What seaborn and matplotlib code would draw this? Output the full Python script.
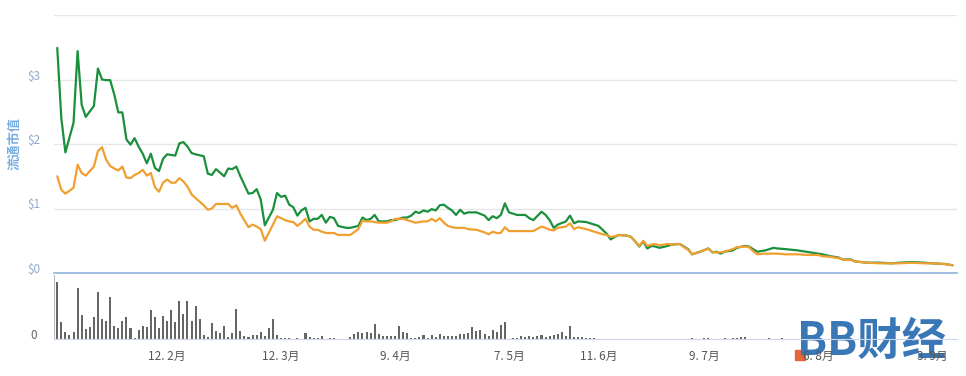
import numpy as np
import pandas as pd
import matplotlib
matplotlib.use("Agg")
import matplotlib.pyplot as plt
from matplotlib.transforms import ScaledTranslation
from matplotlib.patches import Rectangle
import seaborn as sns

# day index (0 = first day shown) and market cap in $ (billions)
days = [0, 1, 2, 4, 5, 6, 7, 9, 10, 11, 12, 13, 14, 15, 16, 17, 18, 19, 20, 21,
        22, 23, 24, 25, 26, 27, 28, 29, 30, 31, 32, 33, 34, 36, 37, 38, 39, 41, 42, 43,
        44, 45, 47, 48, 49, 50, 51, 53, 54, 55, 56, 57, 58, 59, 60, 61, 62, 63, 64, 65,
        66, 67, 68, 69, 71, 72, 74, 75, 76, 77, 78, 79, 81, 82, 83, 85, 86, 87, 88, 89,
        90, 91, 92, 93, 94, 95, 96, 97, 98, 99, 100, 101, 103, 105, 106, 107, 108, 109, 110, 111,
        113, 115, 116, 117, 119, 120, 121, 122, 123, 125, 126, 127, 128, 130, 132, 133, 134, 135, 136, 137,
        138, 140, 141, 142, 143, 144, 145, 146, 147, 148, 150, 151, 153, 154, 155, 156, 158, 160, 161, 162,
        163, 164, 166, 167, 169, 170, 171, 172, 174, 176, 177, 179, 182, 184, 187, 188, 190, 192, 193, 195,
        196, 199, 202, 205, 207, 210, 213, 215, 218, 220]
green = [3.49, 2.40, 1.87, 2.33, 3.44, 2.61, 2.42, 2.59, 3.17, 3.00, 2.99, 2.99, 2.77, 2.49, 2.49, 2.07, 1.99, 2.09, 1.96, 1.85,
         1.70, 1.85, 1.63, 1.58, 1.77, 1.84, 1.83, 1.82, 2.01, 2.03, 1.96, 1.86, 1.84, 1.81, 1.54, 1.52, 1.61, 1.50, 1.62, 1.61,
         1.65, 1.50, 1.23, 1.24, 1.30, 1.14, 0.74, 0.98, 1.24, 1.18, 1.20, 1.06, 1.02, 0.89, 0.97, 1.01, 0.80, 0.84, 0.84, 0.90,
         0.78, 0.87, 0.85, 0.73, 0.70, 0.70, 0.73, 0.86, 0.82, 0.84, 0.90, 0.80, 0.80, 0.82, 0.82, 0.86, 0.86, 0.89, 0.95, 0.93,
         0.97, 0.95, 0.99, 0.97, 1.05, 1.06, 1.01, 0.97, 0.90, 0.98, 0.92, 0.94, 0.94, 0.89, 0.82, 0.88, 0.85, 0.90, 1.08, 0.94,
         0.90, 0.90, 0.85, 0.82, 0.95, 0.90, 0.82, 0.70, 0.75, 0.80, 0.89, 0.77, 0.80, 0.79, 0.75, 0.73, 0.67, 0.61, 0.52, 0.56,
         0.59, 0.58, 0.56, 0.49, 0.41, 0.49, 0.38, 0.42, 0.41, 0.39, 0.42, 0.44, 0.45, 0.41, 0.37, 0.29, 0.33, 0.38, 0.32, 0.33,
         0.30, 0.33, 0.35, 0.39, 0.42, 0.41, 0.37, 0.33, 0.35, 0.39, 0.38, 0.37, 0.35, 0.33, 0.30, 0.29, 0.26, 0.24, 0.21, 0.21,
         0.18, 0.16, 0.16, 0.15, 0.16, 0.17, 0.16, 0.15, 0.14, 0.12]
orange = [1.50, 1.29, 1.23, 1.32, 1.68, 1.55, 1.51, 1.65, 1.89, 1.95, 1.76, 1.66, 1.62, 1.59, 1.65, 1.48, 1.47, 1.52, 1.55, 1.60,
          1.51, 1.55, 1.33, 1.26, 1.40, 1.45, 1.40, 1.40, 1.47, 1.42, 1.34, 1.22, 1.16, 1.05, 0.98, 1.00, 1.07, 1.07, 1.07, 1.01,
          1.05, 0.92, 0.71, 0.75, 0.72, 0.68, 0.50, 0.75, 0.88, 0.85, 0.82, 0.80, 0.79, 0.73, 0.78, 0.84, 0.72, 0.67, 0.67, 0.64,
          0.62, 0.62, 0.62, 0.59, 0.59, 0.59, 0.68, 0.81, 0.80, 0.80, 0.79, 0.78, 0.78, 0.80, 0.84, 0.84, 0.82, 0.80, 0.78, 0.79,
          0.80, 0.80, 0.84, 0.80, 0.85, 0.78, 0.73, 0.71, 0.70, 0.70, 0.70, 0.68, 0.67, 0.63, 0.60, 0.64, 0.62, 0.62, 0.71, 0.65,
          0.65, 0.65, 0.65, 0.65, 0.72, 0.70, 0.67, 0.66, 0.70, 0.72, 0.77, 0.68, 0.71, 0.68, 0.64, 0.62, 0.60, 0.59, 0.56, 0.57,
          0.59, 0.58, 0.56, 0.49, 0.42, 0.50, 0.42, 0.44, 0.45, 0.43, 0.45, 0.44, 0.45, 0.40, 0.36, 0.29, 0.33, 0.38, 0.32, 0.32,
          0.32, 0.33, 0.37, 0.40, 0.41, 0.40, 0.34, 0.29, 0.30, 0.30, 0.30, 0.29, 0.29, 0.28, 0.28, 0.26, 0.25, 0.23, 0.21, 0.20,
          0.18, 0.16, 0.15, 0.15, 0.15, 0.16, 0.15, 0.15, 0.14, 0.12]

# trading volume (relative units)
vol_days = list(range(66)) + [67, 68] + list(range(72, 111)) + list(range(112, 133)) + \
    [156, 159, 160, 164, 166, 167, 168, 169, 175, 178]
volume = [56.7, 17.3, 6.7, 4.3, 7.3, 50.7, 24.3, 10, 11.7, 21.7,
          46.7, 20, 18.3, 41.7, 13.3, 11, 17.7, 22.3, 10.7, 1.3,
          9.3, 12.7, 11.7, 29.3, 22.3, 11, 23.3, 17.7, 29.3, 16.7,
          38.3, 25, 38.3, 18.3, 33.3, 20, 4.3, 2.3, 16, 8.3,
          5.7, 13.3, 1.7, 6, 30, 8.3, 3.3, 2.3, 4, 4,
          7.3, 3.3, 11, 20, 4, 1.3, 1, 1, 0, 1,
          0, 6, 1.7, 1, 1, 3.3,
          0.7, 1.3,
          2.3, 5, 7.3, 5.7, 7.3, 5.7, 15, 5, 3.3, 3.3,
          3.3, 3.3, 13.3, 7.3, 6, 1, 1.3, 2.3, 4, 1.3,
          4, 1.7, 5, 3.3, 3.3, 3.3, 3.3, 5, 5, 6,
          12.3, 8.3, 9.3, 5, 3.3, 9.3, 7.3, 14, 17.3,
          0.7, 0.7, 3.3, 2.3, 3.3, 1.7, 3.3, 4.3, 2.3, 3.3,
          4, 5, 7.3, 3.3, 12.7, 2.3, 2.3, 2.3, 1.3, 1.3, 1,
          1.3, 0.7, 0.7, 0.7, 1, 1.3, 1.7, 1.7, 1, 1]

tick_days = [27, 55, 83, 111, 133, 159, 187, 215]
tick_labels = ["12. 2月", "12. 3月", "9. 4月", "7. 5月", "11. 6月", "9. 7月", "6. 8月", "3. 9月"]
price_ticks = [0, 1, 2, 3, 4]
price_labels = ["$0", "$1", "$2", "$3", ""]

sns.set_style("white")
plt.rcParams["font.family"] = ["Noto Sans CJK SC", "DejaVu Sans"]

df = pd.DataFrame({"day": days, "green": green, "orange": orange})
vdf = pd.DataFrame({"day": vol_days, "volume": volume})

fig = plt.figure(figsize=(9.66, 3.76), dpi=100)
ax = fig.add_axes([54 / 966, 103 / 376, 903 / 966, 258 / 376])
axv = fig.add_axes([54 / 966, 37 / 376, 903 / 966, 64 / 376])

# price lines
sns.lineplot(data=df, x="day", y="orange", ax=ax, color="#f0a030", linewidth=1.6, sort=False)
sns.lineplot(data=df, x="day", y="green", ax=ax, color="#1a8f3c", linewidth=1.6, sort=False)
ax.lines[0].set_zorder(3)
ax.set_xlim(-0.8, 221.1)
ax.set_ylim(0, 4)
ax.set_yticks(price_ticks)
ax.set_yticklabels(price_labels)
ax.set_xticks([])
ax.set_xlabel("")
ax.set_ylabel("流通市值", color="#7aaee0", fontsize=9.5, fontweight="bold")
ax.yaxis.set_label_coords(-0.036, 0.5)
ax.yaxis.grid(True, color="#e6e6e6", linewidth=1)
ax.tick_params(axis="y", length=0, pad=10, labelsize=8.5, labelcolor="#8eaacb")
for s in ["top", "right", "left"]:
    ax.spines[s].set_visible(False)
ax.spines["bottom"].set_color("#8fb3dd")
ax.spines["bottom"].set_linewidth(1.2)
ax.set_facecolor("none")
off = ScaledTranslation(0, 5 / 100, fig.dpi_scale_trans)
for lab in ax.get_yticklabels():
    lab.set_transform(lab.get_transform() + off)

# volume bars
sns.barplot(data=vdf, x="day", y="volume", ax=axv, native_scale=True, color="#666666",
            width=0.5, saturation=1, edgecolor="none")
axv.set_xlim(-0.8, 221.1)
axv.set_ylim(0, 64)
axv.set_yticks([0])
axv.set_yticklabels(["0"])
axv.set_xticks(tick_days)
axv.set_xticklabels(tick_labels)
axv.set_xlabel("")
axv.set_ylabel("")
axv.tick_params(axis="y", length=0, pad=12, labelsize=8.5, labelcolor="#666666")
axv.tick_params(axis="x", length=7, width=0.8, color="#ccd6eb", pad=1, labelsize=8.5, labelcolor="#555555")
axv.spines["top"].set_visible(False)
axv.spines["right"].set_visible(False)
axv.spines["left"].set_color("#bbbbbb")
axv.spines["bottom"].set_color("#ccd6eb")
axv.set_facecolor("none")
for lab in axv.get_yticklabels():
    lab.set_transform(lab.get_transform() + off)

# watermark logo (drawn beneath the axes)
fig.text(797 / 966, 34 / 376, "BB财经", color="#3a77b6", fontsize=32, fontweight="bold",
         ha="left", va="center", zorder=-1)
fig.patches.append(Rectangle((795 / 966, 16 / 376), 10 / 966, 10 / 376, transform=fig.transFigure,
                             color="#e8673a", zorder=-1))

fig.savefig("out.png", dpi=100)
